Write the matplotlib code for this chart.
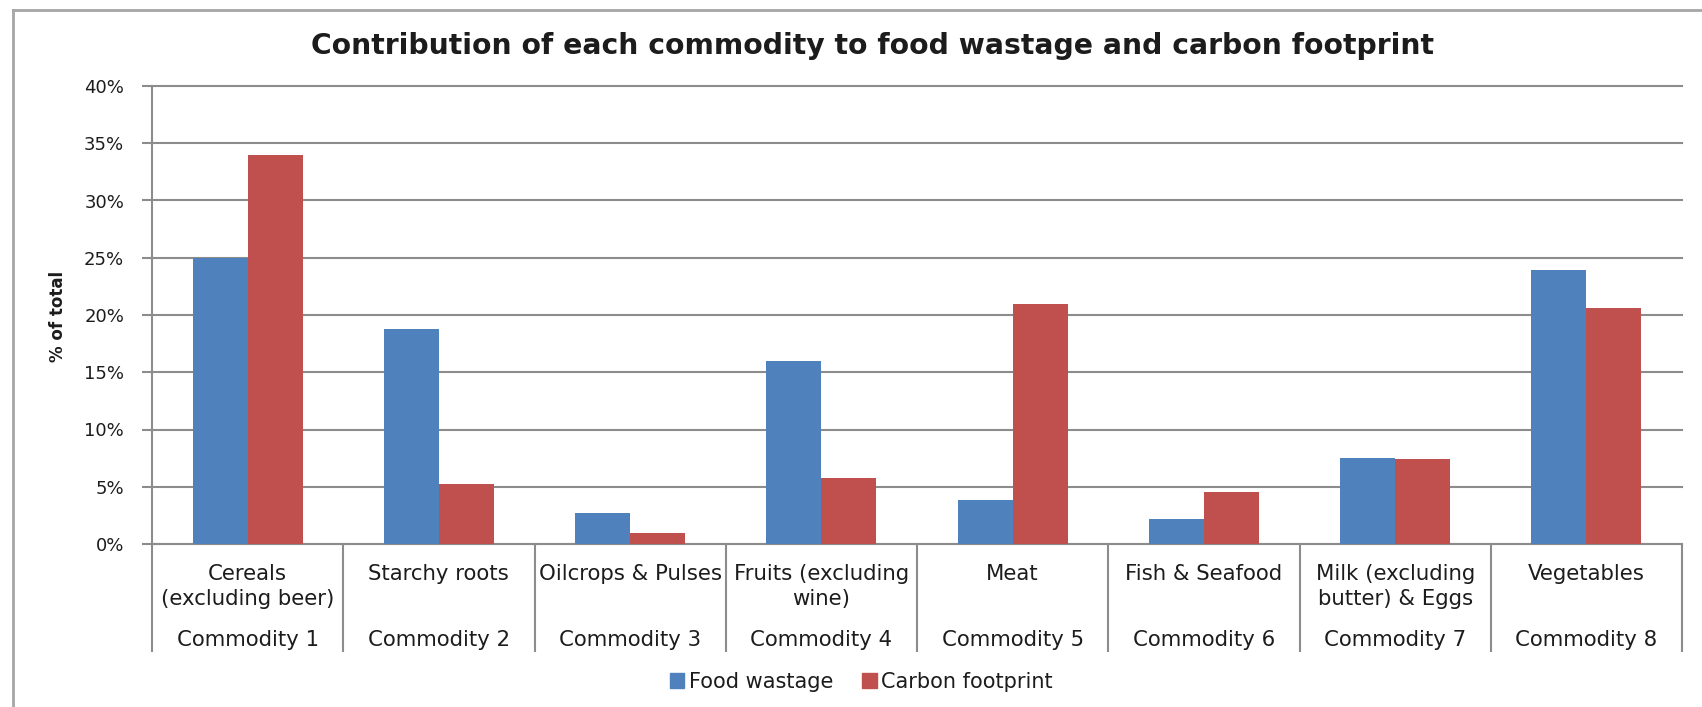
import matplotlib
matplotlib.use('Agg')
import matplotlib.pyplot as plt
import matplotlib.transforms as mtransforms
from matplotlib.lines import Line2D
from matplotlib.patches import Patch
from matplotlib.ticker import PercentFormatter
import numpy as np

# Share of each commodity (fraction of total)
categories = ['Cereals\n(excluding beer)', 'Starchy roots', 'Oilcrops & Pulses',
              'Fruits (excluding\nwine)', 'Meat', 'Fish & Seafood',
              'Milk (excluding\nbutter) & Eggs', 'Vegetables']
groups = ['Commodity 1', 'Commodity 2', 'Commodity 3', 'Commodity 4',
          'Commodity 5', 'Commodity 6', 'Commodity 7', 'Commodity 8']
food_wastage = [0.250, 0.188, 0.027, 0.160, 0.038, 0.022, 0.075, 0.239]
carbon_footprint = [0.340, 0.052, 0.010, 0.058, 0.210, 0.045, 0.074, 0.206]

BLUE = '#4F81BD'
RED = '#C0504D'
GRID = '#8c8c8c'
TEXT = '#1c1c1c'

plt.rcParams['font.family'] = ['DejaVu Sans']

fig = plt.figure(figsize=(17.02, 7.07), dpi=100)
ax = fig.add_axes([152 / 1702, 1 - 544 / 707, 1530 / 1702, 458 / 707])

x = np.arange(len(categories))
w = 0.2875
ax.bar(x - w / 2, food_wastage, width=w, color=BLUE, zorder=3)
ax.bar(x + w / 2, carbon_footprint, width=w, color=RED, zorder=3)

ax.set_xlim(-0.5, len(categories) - 0.5)
ax.set_ylim(0, 0.40)
ax.set_yticks(np.arange(0, 0.41, 0.05))
ax.yaxis.set_major_formatter(PercentFormatter(1.0, decimals=0))
ax.yaxis.grid(True, color=GRID, linewidth=1.5, zorder=0)
for gl in ax.get_ygridlines():
    gl.set_clip_on(False)
ax.tick_params(axis='y', length=7, width=1.5, color=GRID, pad=13,
               labelsize=13, labelcolor=TEXT)

for side in ['top', 'right']:
    ax.spines[side].set_visible(False)
for side in ['left', 'bottom']:
    ax.spines[side].set_color(GRID)
    ax.spines[side].set_linewidth(1.5)

# category separators hang below the axis
ax.set_xticks(x)
ax.set_xticklabels([])
ax.tick_params(axis='x', which='major', length=0)
ax.set_xticks(np.arange(-0.5, len(categories), 1.0), minor=True)
ax.tick_params(axis='x', which='minor', length=78, width=1.5, color=GRID)

trans = mtransforms.blended_transform_factory(ax.transData, ax.transAxes)
for i, (name, grp) in enumerate(zip(categories, groups)):
    ax.text(i, -0.043, name, transform=trans, ha='center', va='top',
            fontsize=15.3, color=TEXT, linespacing=1.36)
    ax.text(i, -0.2096, grp, transform=trans, ha='center', va='center',
            fontsize=15.3, color=TEXT)

fig.text(0.034, 1 - 316 / 707, '% of total', rotation=90, ha='center',
         va='center', fontsize=12, fontweight='bold', color=TEXT)
fig.text(0.5125, 1 - 46 / 707,
         'Contribution of each commodity to food wastage and carbon footprint',
         ha='center', va='center', fontsize=20.3, fontweight='bold', color=TEXT)

handles = [Patch(color=BLUE, label='Food wastage'),
           Patch(color=RED, label='Carbon footprint')]
fig.legend(handles=handles, loc='center', bbox_to_anchor=(0.506, 1 - 682 / 707),
           ncol=2, frameon=False, fontsize=15, handlelength=0.7,
           handleheight=0.7, handletextpad=0.2, columnspacing=1.4,
           labelcolor=TEXT)

# outer chart frame (top and left edges)
fig.add_artist(Line2D([13 / 1702, 1.0], [1 - 10 / 707, 1 - 10 / 707],
                      color='#a6a6a6', linewidth=2, transform=fig.transFigure))
fig.add_artist(Line2D([13 / 1702, 13 / 1702], [1 - 10 / 707, 0.0],
                      color='#a6a6a6', linewidth=2, transform=fig.transFigure))

fig.savefig('out.png', dpi=100)
